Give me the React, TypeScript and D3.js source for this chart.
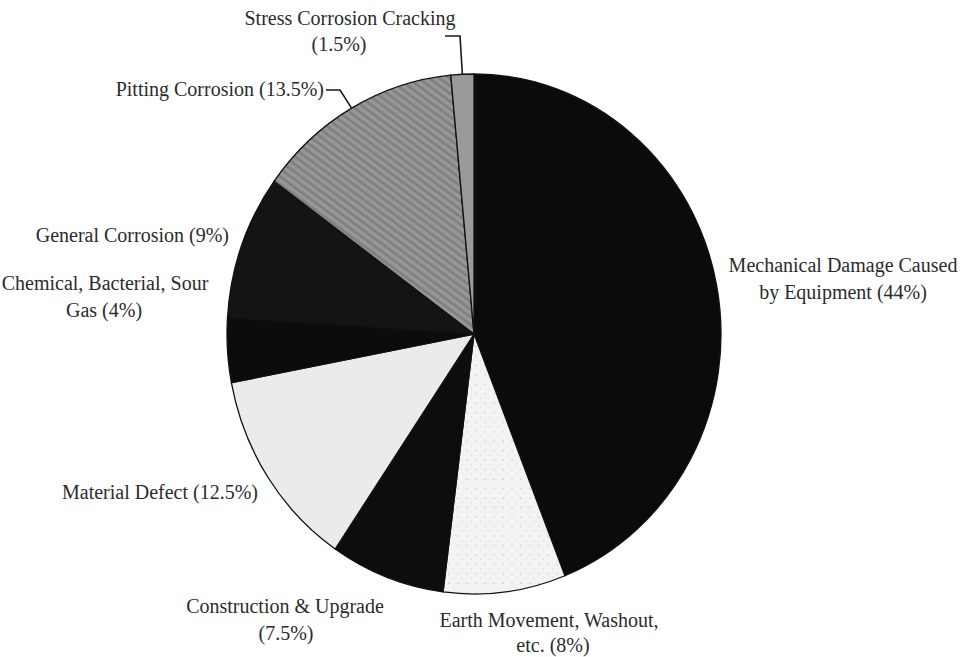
import React from "react";
import * as d3 from "d3";

const categories = [
  "Mechanical Damage Caused by Equipment",
  "Earth Movement, Washout, etc.",
  "Construction & Upgrade",
  "Material Defect",
  "Chemical, Bacterial, Sour Gas",
  "General Corrosion",
  "Pitting Corrosion",
  "Stress Corrosion Cracking",
];
const values = [44, 8, 7.5, 12.5, 4, 9, 13.5, 1.5];
const fills = ["#0b0b0b", "url(#dots)", "#0d0d0d", "#ebebeb", "#0c0c0c", "#141414", "url(#speckle)", "#9a9a9a"];

// label lines (text) with positions
const labelLines: { idx: number; lines: string[]; xs: number[]; ys: number[]; anchor: string }[] = [
  { idx: 0, lines: ["Mechanical Damage Caused", "by Equipment (44%)"], xs: [843, 843], ys: [272, 299], anchor: "middle" },
  { idx: 1, lines: ["Earth Movement, Washout,", "etc. (8%)"], xs: [549, 553], ys: [627, 652], anchor: "middle" },
  { idx: 2, lines: ["Construction & Upgrade", "(7.5%)"], xs: [285, 286], ys: [613, 640], anchor: "middle" },
  { idx: 3, lines: ["Material Defect (12.5%)"], xs: [258], ys: [499], anchor: "end" },
  { idx: 4, lines: ["Chemical, Bacterial, Sour", "Gas (4%)"], xs: [105, 104], ys: [290, 317], anchor: "middle" },
  { idx: 5, lines: ["General Corrosion (9%)"], xs: [229], ys: [242], anchor: "end" },
  { idx: 6, lines: ["Pitting Corrosion (13.5%)"], xs: [324], ys: [96], anchor: "end" },
  { idx: 7, lines: ["Stress Corrosion Cracking", "(1.5%)"], xs: [350, 339], ys: [25, 51], anchor: "middle" },
];

const W = 962;
const H = 657;
const cx = 474;
const cy = 334;
const rx = 247;
const ry = 260;

export default function App() {
  const pie = d3.pie<number>().sort(null).value((d) => d);
  const arcs = pie(values);
  const arc = d3.arc<d3.PieArcDatum<number>>().innerRadius(0).outerRadius(rx);

  const edgePoint = (i: number) => {
    const a = (arcs[i].startAngle + arcs[i].endAngle) / 2;
    return [cx + rx * Math.sin(a), cy - ry * Math.cos(a)];
  };
  const sp = edgePoint(7);
  const pp = edgePoint(6);

  return (
    <svg width={W} height={H} style={{ position: "absolute", left: 0, top: 0, background: "#fff" }}>
      <defs>
        <pattern id="dots" width="9" height="9" patternUnits="userSpaceOnUse">
          <rect width="9" height="9" fill="#f3f3f3" />
          <circle cx="2" cy="3" r="0.7" fill="#bdbdbd" />
          <circle cx="6.5" cy="7" r="0.5" fill="#cfcfcf" />
        </pattern>
        <pattern id="speckle" width="6" height="6" patternUnits="userSpaceOnUse" patternTransform="rotate(35)">
          <rect width="6" height="6" fill="#8e8e8e" />
          <rect width="6" height="1.4" y="0" fill="#7a7a7a" />
          <rect width="6" height="1" y="3" fill="#a3a3a3" />
        </pattern>
      </defs>
      <g transform={`translate(${cx},${cy}) scale(1,${ry / rx})`}>
        {arcs.map((a, i) => (
          <path
            key={categories[i]}
            d={arc(a) || ""}
            fill={fills[i]}
            stroke="#111"
            strokeWidth={1.3}
            vectorEffect="non-scaling-stroke"
          />
        ))}
      </g>
      <g fill="none" stroke="#1a1a1a" strokeWidth={1.6}>
        <polyline points={`445,36 460,36 ${sp[0]},${sp[1]}`} />
        <polyline points={`326,90 340,90 ${pp[0]},${pp[1]}`} />
      </g>
      <g fontFamily="'Liberation Serif', 'Times New Roman', serif" fontSize={20} fill="#2b2b2b">
        {labelLines.map((l) =>
          l.lines.map((t, j) => (
            <text key={l.idx + "-" + j} x={l.xs[j]} y={l.ys[j]} textAnchor={l.anchor}>
              {t}
            </text>
          ))
        )}
      </g>
    </svg>
  );
}
